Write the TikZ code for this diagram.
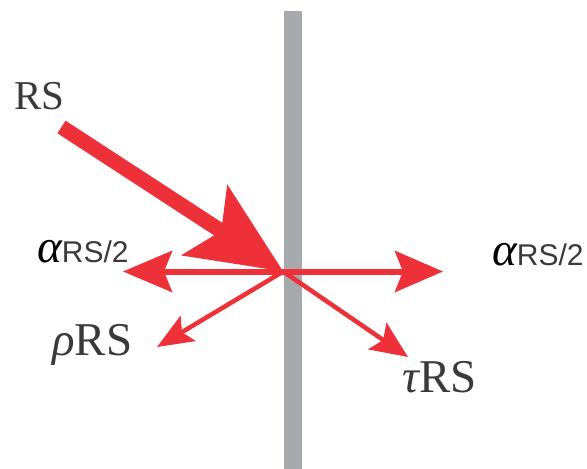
\documentclass[tikz,border=0pt]{standalone}
\usepackage{fontspec}
\usetikzlibrary{arrows.meta}
\newfontfamily\labserif{Liberation Serif}
\newfontfamily\labsans{Liberation Sans}
\definecolor{beam}{HTML}{EE3139}
\definecolor{wall}{HTML}{A7A9AC}
\definecolor{ink}{HTML}{3A3A3A}
\tikzset{
  ray/.style={draw=beam, line width=#1},
  lbl/.style={inner sep=0pt, anchor=base west, text=ink},
}
\newcommand{\topserif}{\labserif\fontsize{41}{41}\selectfont}
\newcommand{\bigserif}{\labserif\fontsize{47}{47}\selectfont}
\newcommand{\smallsans}{\labsans\fontsize{30}{30}\selectfont}
\begin{document}
\begin{tikzpicture}[x=1pt,y=-1pt]
\useasboundingbox (0,0) rectangle (587,469);
% the wall
\fill[wall] (284,11) rectangle (302,469);
% points of the beams
\coordinate (hit) at (283.3,271.5);
\coordinate (src) at (61.5,127);
\coordinate (absL) at (123,271.5);
\coordinate (absR) at (443,271.5);
\coordinate (refl) at (157,347);
\coordinate (trans) at (408,357);
% incident beam
\draw[ray=15pt, -{Stealth[length=93pt,width=82pt,inset=19pt]}] (src) -- (hit);
% absorbed halves
\draw[ray=6pt, -{Stealth[length=49pt,width=41pt,inset=8pt]}] (hit) -- (absL);
\draw[ray=6pt, -{Stealth[length=48pt,width=41pt,inset=8pt]}] (hit) -- (absR);
% reflected and transmitted
\draw[ray=4.5pt, -{Stealth[length=36pt,width=29pt,inset=7pt]}] (hit) -- (refl);
\draw[ray=4.5pt, -{Stealth[length=37pt,width=32pt,inset=7pt]}] (hit) -- (trans);
% labels
\node[lbl] (lRS) at (14,109) {\topserif RS};
\node[lbl] (lAL) at (37,262) {\bigserif\itshape\color{black}α\smallsans\upshape\color{ink}RS/2};
\node[lbl] (lAR) at (492,265) {\bigserif\itshape\color{black}α\smallsans\upshape\color{ink}RS/2};
\node[lbl] (lRho) at (52,355) {\bigserif\itshape ρ\upshape RS};
\node[lbl] (lTau) at (402,392) {\bigserif\itshape τ\upshape RS};
\end{tikzpicture}
\end{document}
